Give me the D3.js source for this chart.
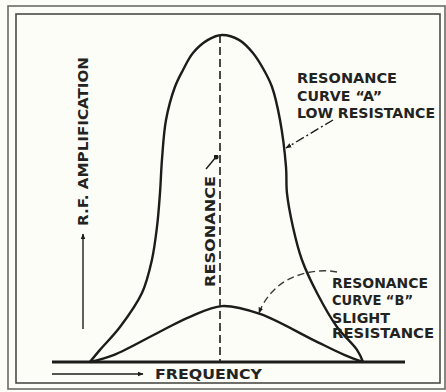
<!DOCTYPE html>
<html>
<head>
<meta charset="utf-8">
<script src="https://cdn.jsdelivr.net/npm/d3@7"></script>
<style>
  html, body { margin: 0; padding: 0; background: #fdfdf8; }
  svg { display: block; }
  text { font-family: "DejaVu Sans", "Liberation Sans", sans-serif; font-weight: bold; fill: #232321; }
</style>
</head>
<body>
<svg id="chart" width="446" height="392"></svg>
<script>
// Frequency offset from resonance (arbitrary units) and relative R.F. amplification (peak of A = 100)
const curveAFreq = [-1.01, -0.933, -0.78, -0.612, -0.536, -0.497, -0.474, -0.459, -0.428, -0.36, -0.298, -0.222, -0.107, 0,
                    0.13, 0.237, 0.321, 0.383, 0.444, 0.49, 0.497, 0.543, 0.612, 0.727, 0.88, 1.033, 1.079];
const curveAAmp  = [0, 3.7, 10.7, 21.1, 31.2, 41.3, 51.7, 61.8, 74.0, 84.1, 89.3, 94.5, 98.5, 100,
                    98.5, 94.5, 89.3, 84.1, 74.0, 59.6, 51.7, 41.3, 31.2, 21.1, 10.7, 3.7, 0];
const curveBFreq = [-1.01, -0.83, -0.45, -0.245, 0, 0.29, 0.70, 0.94, 1.079];
const curveBAmp  = [0, 2.1, 9.8, 13.8, 17.1, 14.7, 6.7, 2.1, 0];
const resonanceFreq = -0.015;

const xLabel = "FREQUENCY";
const yLabel = "R.F. AMPLIFICATION";
const resonanceLabel = "RESONANCE";
const labelA = ["RESONANCE", "CURVE \u201CA\u201D", "LOW RESISTANCE"];
const labelB = ["RESONANCE", "CURVE \u201CB\u201D", "SLIGHT", "RESISTANCE"];

const svg = d3.select("#chart");
const ink = "#1c1c1a";

const x = d3.scaleLinear().domain([-1.3, 1.4]).range([52, 405]);
const y = d3.scaleLinear().domain([0, 100]).range([362, 35]);

// double border
svg.append("rect").attr("x", 8).attr("y", 6).attr("width", 437).attr("height", 383)
  .attr("fill", "none").attr("stroke", "#6a6a66").attr("stroke-width", 1.6);
svg.append("rect").attr("x", 16).attr("y", 14).attr("width", 424).attr("height", 369)
  .attr("fill", "none").attr("stroke", "#4a4a46").attr("stroke-width", 1.6);

// arrowhead and dot markers
const defs = svg.append("defs");
defs.append("marker").attr("id", "arrow").attr("viewBox", "0 0 10 10")
  .attr("refX", 9).attr("refY", 5).attr("markerWidth", 6).attr("markerHeight", 6)
  .attr("orient", "auto-start-reverse").attr("markerUnits", "userSpaceOnUse")
  .append("path").attr("d", "M0,1 L10,5 L0,9 Z").attr("fill", ink);
defs.append("marker").attr("id", "dot").attr("viewBox", "0 0 10 10")
  .attr("refX", 5).attr("refY", 5).attr("markerWidth", 5).attr("markerHeight", 5)
  .attr("markerUnits", "userSpaceOnUse")
  .append("circle").attr("cx", 5).attr("cy", 5).attr("r", 5).attr("fill", ink);

// resonance line (dashed)
svg.append("line")
  .attr("x1", x(resonanceFreq)).attr("x2", x(resonanceFreq))
  .attr("y1", y(100)).attr("y2", y(0))
  .attr("stroke", ink).attr("stroke-width", 1.6).attr("stroke-dasharray", "8,4");

// curves
const line = d3.line().x(d => x(d[0])).y(d => y(d[1])).curve(d3.curveCatmullRom.alpha(0.5));
const ptsA = curveAFreq.map((f, i) => [f, curveAAmp[i]]);
const ptsB = curveBFreq.map((f, i) => [f, curveBAmp[i]]);
svg.append("path").attr("d", line(ptsA)).attr("fill", "none").attr("stroke", ink).attr("stroke-width", 2.4);
svg.append("path").attr("d", line(ptsB)).attr("fill", "none").attr("stroke", ink).attr("stroke-width", 2.4);

// baseline (frequency axis)
svg.append("line").attr("x1", x.range()[0]).attr("x2", x.range()[1])
  .attr("y1", y(0)).attr("y2", y(0)).attr("stroke", ink).attr("stroke-width", 3);

// frequency arrow and label
svg.append("line").attr("x1", 52).attr("x2", 143).attr("y1", 374).attr("y2", 374)
  .attr("stroke", ink).attr("stroke-width", 1.4).attr("marker-end", "url(#arrow)");
svg.append("text").attr("x", 155).attr("y", 378.5).attr("font-size", 13.5)
  .attr("textLength", 107).attr("lengthAdjust", "spacingAndGlyphs").text(xLabel);

// amplification arrow and label
svg.append("line").attr("x1", 83).attr("x2", 83).attr("y1", 329).attr("y2", 234)
  .attr("stroke", ink).attr("stroke-width", 1.4).attr("marker-end", "url(#arrow)");
svg.append("text").attr("transform", "translate(87.5,226) rotate(-90)").attr("font-size", 13.5)
  .attr("textLength", 169).attr("lengthAdjust", "spacingAndGlyphs").text(yLabel);

// resonance label with pointer
svg.append("text").attr("transform", "translate(214.5,287) rotate(-90)").attr("font-size", 13.5)
  .attr("textLength", 111).attr("lengthAdjust", "spacingAndGlyphs").text(resonanceLabel);
svg.append("line").attr("x1", 206).attr("y1", 169).attr("x2", 216).attr("y2", 157)
  .attr("stroke", ink).attr("stroke-width", 1.4).attr("marker-end", "url(#dot)");

// annotation for curve A
const widthsA = [100, 85, 138];
const baseA = [83, 100.5, 117.5];
labelA.forEach((t, i) => {
  svg.append("text").attr("x", 297).attr("y", baseA[i]).attr("font-size", 13.5)
    .attr("textLength", widthsA[i]).attr("lengthAdjust", "spacingAndGlyphs").text(t);
});
svg.append("line").attr("x1", 333).attr("y1", 120).attr("x2", 286).attr("y2", 148)
  .attr("stroke", ink).attr("stroke-width", 1.4).attr("stroke-dasharray", "9,3,2,3")
  .attr("marker-end", "url(#arrow)");

// annotation for curve B
const widthsB = [96, 81, 58, 102];
const baseB = [288, 305, 322.5, 337.5];
labelB.forEach((t, i) => {
  svg.append("text").attr("x", 332).attr("y", baseB[i]).attr("font-size", 13.5)
    .attr("textLength", widthsB[i]).attr("lengthAdjust", "spacingAndGlyphs").text(t);
});
svg.append("path").attr("d", "M337,272 C318,268 290,274 275,289 C266,298 262,305 259,313")
  .attr("fill", "none").attr("stroke", "#3a3a38").attr("stroke-width", 1.4)
  .attr("stroke-dasharray", "7,4").attr("marker-end", "url(#arrow)");
</script>
</body>
</html>
